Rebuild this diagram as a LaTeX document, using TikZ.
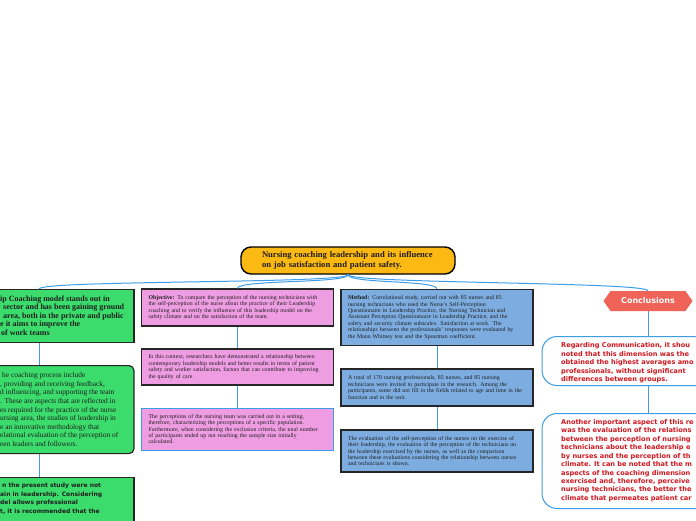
\documentclass[tikz,border=0pt]{standalone}
\usepackage{fontspec}
\setmainfont{Liberation Serif}
\newfontfamily\vsans{DejaVu Sans}
\usetikzlibrary{shapes.symbols,calc}
\definecolor{rootfill}{HTML}{FDB913}
\definecolor{greenfill}{HTML}{3BDC6C}
\definecolor{pinkfill}{HTML}{EE9DE2}
\definecolor{bluefill}{HTML}{7DADE0}
\definecolor{connblue}{HTML}{3D9DE6}
\definecolor{concred}{HTML}{EF6359}
\definecolor{redtext}{HTML}{D0161E}
\definecolor{darkline}{HTML}{262626}
\definecolor{darktext}{HTML}{1E1E1E}
\tikzset{
  conn/.style={draw=connblue, line width=1pt},
  rootbox/.style={draw=black, line width=1.4pt, fill=rootfill, rounded corners=10pt,
    minimum width=214pt, minimum height=27pt, text width=172pt, align=left, inner xsep=21pt,
    font=\bfseries\fontsize{8.6}{10}\selectfont, text=darktext},
  greenbox/.style={draw=darkline, line width=1.2pt, fill=greenfill, minimum width=190pt, inner sep=0pt},
  gtext/.style={anchor=west, inner sep=0pt, align=left, text=darktext},
  sbox/.style={draw=darkline, line width=1.2pt, text width=178pt, align=left, inner xsep=7pt, inner ysep=0pt,
    font=\fontsize{5.85}{6.4}\selectfont, text=darktext},
  pinkbox/.style={sbox, fill=pinkfill},
  bluebox/.style={sbox, fill=bluefill},
  concbox/.style={draw=connblue, line width=1pt, fill=white, rounded corners=15pt, minimum width=212pt, inner sep=0pt},
  ctext/.style={anchor=west, inner sep=0pt, align=left, text=redtext, font=\vsans\bfseries\fontsize{6.6}{8.45}\selectfont},
}
\begin{document}
\begin{tikzpicture}[x=1pt,y=-1pt]
\useasboundingbox (0,0) rectangle (696,520);
\clip (0,0) rectangle (696,520);
\fill[white] (0,0) rectangle (696,520);

% root
\node[rootbox] (root) at (348,260.5) {Nursing coaching leadership and its influence\\on job satisfaction and patient safety.};

% green column
\node[greenbox, minimum height=53pt, anchor=north] (g1) at (39,289) {};
\node[greenbox, minimum height=88pt, anchor=north, rounded corners=5pt] (g2) at (39,365) {};
\node[greenbox, minimum height=70pt, anchor=north] (g3) at (39,477) {};
\node[gtext, font=\bfseries\fontsize{8}{8.5}\selectfont] (g1t) at (0,315.5) {ip Coaching model stands out in\\
\hspace*{3pt}sector and has been gaining ground\\
\hspace*{3pt}area, both in the private and public\\
e it aims to improve the\\
\hspace*{1pt}of work teams};
\node[gtext, font=\fontsize{7.4}{8.6}\selectfont] (g2t) at (0,409.5) {\hspace*{2pt}he coaching process include\\
, providing and receiving feedback,\\
d influencing, and supporting the team\\
. These are aspects that are reflected in\\
es required for the practice of the nurse\\
ursing area, the studies of leadership in\\
e an innovative methodology that\\
elational evaluation of the perception of\\
een leaders and followers.};
\node[gtext, font=\vsans\bfseries\fontsize{6}{8.6}\selectfont, anchor=north west] (g3t) at (0,483) {\hspace*{2pt}n the present study were not\\
ain in leadership. Considering\\
del allows professional\\
t, it is recommended that the};

% pink column
\node[pinkbox, minimum height=37pt] (p1) at (237.5,307.5) {\textbf{Objective:} To compare the perception of the nursing technicians with\\
the self-perception of the nurse about the practice of their Leadership\\
coaching and to verify the influence of this leadership model on the\\
safety climate and on the satisfaction of the team.};
\node[pinkbox, minimum height=36pt] (p2) at (237.5,367) {In this context, researchers have demonstrated a relationship between\\
contemporary leadership models and better results in terms of patient\\
safety and worker satisfaction, factors that can contribute to improving\\
the quality of care};
\node[pinkbox, minimum height=42pt, draw=connblue, line width=1pt] (p3) at (237.5,429) {The perceptions of the nursing team was carried out in a setting,\\
therefore, characterizing the perceptions of a specific population.\\
Furthermore, when considering the exclusion criteria, the total number\\
of participants ended up not reaching the sample size initially\\
calculated.};

% blue column
\node[bluebox, minimum height=56pt] (b1) at (437,317.5) {\textbf{Method:} Correlational study, carried out with 85 nurses and 85\\
nursing technicians who used the Nurse's Self-Perception\\
Questionnaire in Leadership Practice, the Nursing Technician and\\
Assistant Perception Questionnaire in Leadership Practice, and the\\
safety and security climate subscales. Satisfaction at work. The\\
relationships between the professionals' responses were evaluated by\\
the Mann Whitney test and the Spearman coefficient.};
\node[bluebox, minimum height=37pt] (b2) at (437,387.5) {A total of 170 nursing professionals, 85 nurses, and 85 nursing\\
technicians were invited to participate in the research. Among the\\
participants, some did not fill in the fields related to age and time in the\\
function and in the unit.};
\node[bluebox, minimum height=42pt] (b3) at (437,451) {The evaluation of the self-perception of the nurses on the exercise of\\
their leadership, the evaluation of the perception of the technicians on\\
the leadership exercised by the nurses, as well as the comparison\\
between these evaluations considering the relationship between nurses\\
and technicians is shown.};

% conclusions
\node[signal, signal to=west and east, signal pointer angle=110, fill=concred, draw=none,
  minimum width=89pt, minimum height=20pt, inner sep=0pt, text=white, font=\vsans\bfseries\fontsize{8}{9}\selectfont] (conc) at (648,301) {Conclusions};
\node[concbox, minimum height=49pt, anchor=north] (c1) at (648,336) {};
\node[concbox, minimum height=95pt, anchor=north] (c2) at (648,413) {};
\node[ctext] (c1t) at (561,363) {Regarding Communication, it shou\\
noted that this dimension was the\\
obtained the highest averages amo\\
professionals, without significant\\
differences between groups.};
\node[ctext] (c2t) at (561,460.5) {Another important aspect of this re\\
was the evaluation of the relations\\
between the perception of nursing\\
technicians about the leadership e\\
by nurses and the perception of th\\
climate. It can be noted that the m\\
aspects of the coaching dimension\\
exercised and, therefore, perceive\\
nursing technicians, the better the\\
climate that permeates patient car};

% connectors from root
\draw[conn] (root.south) .. controls +(0,9) and +(0,-9) .. (g1.north);
\draw[conn] (root.south) .. controls +(0,9) and +(0,-9) .. (p1.north);
\draw[conn] (root.south) .. controls +(0,9) and +(0,-9) .. (b1.north);
\draw[conn] (root.south) .. controls +(0,9) and +(0,-9) .. (conc.north);

% vertical connectors
\draw[conn] (g1.south) -- (g2.north);
\draw[conn] (g2.south) -- (g3.north);
\draw[conn] (p1.south) -- (p2.north);
\draw[conn] (p2.south) -- (p3.north);
\draw[conn] (b1.south) -- (b2.north);
\draw[conn] (b2.south) -- (b3.north);
\draw[conn] (conc.south) -- (c1.north);
\draw[conn] (c1.south) -- (c2.north);
\end{tikzpicture}
\end{document}
